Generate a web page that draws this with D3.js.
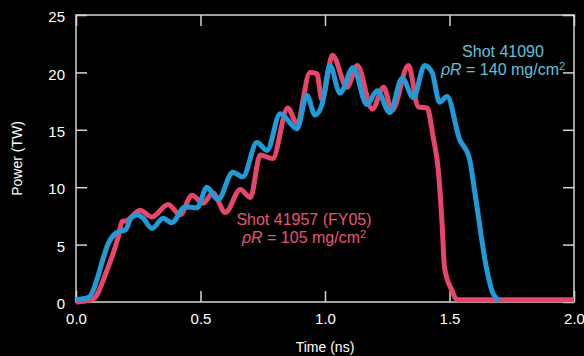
<!DOCTYPE html>
<html>
<head>
<meta charset="utf-8">
<script src="https://cdn.jsdelivr.net/npm/d3@7"></script>
<style>
  html, body { margin: 0; padding: 0; background: #000; }
  svg { display: block; }
</style>
</head>
<body>
<div id="chart"></div>
<script>
// pulse shapes (time in ns, power in TW)
const timeRed  = [0.00, 0.07, 0.125, 0.17, 0.185, 0.205, 0.257, 0.305, 0.37, 0.418, 0.466, 0.51, 0.55, 0.60, 0.66, 0.70, 0.74, 0.79, 0.85, 0.887, 0.94, 0.967, 0.988, 1.03, 1.088, 1.13, 1.19, 1.235, 1.27, 1.335, 1.375, 1.41, 1.435, 1.455, 1.47, 1.48, 1.51, 1.53, 2.00];
const powerRed = [0.0, 0.3, 2.8, 5.7, 7.0, 7.1, 8.0, 7.4, 8.5, 7.6, 9.3, 8.6, 9.5, 7.8, 9.8, 9.1, 12.8, 12.5, 16.9, 15.6, 20.0, 19.9, 17.6, 21.5, 18.7, 20.6, 16.8, 18.7, 16.7, 20.6, 17.0, 16.9, 14.3, 11.5, 6.9, 3.0, 1.0, 0.2, 0.2];

const timeBlue  = [0.00, 0.05, 0.137, 0.16, 0.20, 0.22, 0.245, 0.27, 0.305, 0.35, 0.385, 0.438, 0.486, 0.526, 0.57, 0.63, 0.67, 0.727, 0.767, 0.82, 0.888, 0.927, 0.96, 0.988, 1.02, 1.06, 1.113, 1.168, 1.21, 1.26, 1.31, 1.355, 1.40, 1.43, 1.46, 1.49, 1.54, 1.58, 1.60, 1.65, 1.67, 1.70];
const powerBlue = [0.2, 0.4, 5.4, 6.0, 6.3, 7.3, 7.6, 7.3, 6.4, 7.3, 6.9, 8.3, 8.2, 10.0, 8.9, 11.3, 10.9, 13.9, 13.2, 16.4, 15.1, 18.0, 16.3, 17.2, 20.6, 18.2, 20.4, 17.2, 18.4, 16.5, 19.5, 17.8, 20.6, 20.0, 17.4, 17.9, 14.2, 12.5, 9.8, 2.8, 1.0, 0.1];

const xTicks = [0, 0.5, 1.0, 1.5, 2.0];
const yTicks = [0, 5, 10, 15, 20, 25];

const labelRed  = ["Shot 41957 (FY05)", "105"];
const labelBlue = ["Shot 41090", "140"];

let margin = ({ top: 15, right: 10, bottom: 54, left: 76 }),
    width = 584,
    height = 356;

let redColor = "#e8456a",
    blueColor = "#1f9bd8",
    frameColor = "#d4d4d4";

let x = d3.scaleLinear()
    .domain([0, 2])
    .range([margin.left, width - margin.right]);

let y = d3.scaleLinear()
    .domain([0, 25])
    .range([height - margin.bottom, margin.top]);

let svg = d3.select("#chart")
    .append("svg")
    .attr("width", width)
    .attr("height", height)
    .style("font-family", "'Liberation Sans', Arial, sans-serif");

svg.append("rect")
    .attr("width", width)
    .attr("height", height)
    .attr("fill", "#000");

let tickLen = 11;

// axes, ticks pointing inward on all four sides
let xAxis = g => g
    .attr("transform", `translate(0,${y(0)})`)
    .call(d3.axisBottom(x).tickValues(xTicks).tickFormat(d3.format(".1f")).tickSizeInner(-tickLen).tickSizeOuter(0).tickPadding(11))
    .call(g => g.select(".domain").remove())
    .call(g => g.selectAll("line").attr("stroke", frameColor).attr("stroke-width", 1.5))
    .call(g => g.selectAll("text").attr("fill", "#fff").style("font-size", "15px"));

let yAxis = g => g
    .attr("transform", `translate(${x(0)},0)`)
    .call(d3.axisLeft(y).tickValues(yTicks).tickSizeInner(-tickLen).tickSizeOuter(0).tickPadding(11))
    .call(g => g.select(".domain").remove())
    .call(g => g.selectAll("line").attr("stroke", frameColor).attr("stroke-width", 1.5))
    .call(g => g.selectAll("text").attr("fill", "#fff").attr("dy", "0.45em").style("font-size", "15px"));

let xAxisTop = g => g
    .attr("transform", `translate(0,${y(25)})`)
    .call(d3.axisTop(x).tickValues(xTicks).tickSizeInner(-tickLen).tickSizeOuter(0).tickFormat(""))
    .call(g => g.select(".domain").remove())
    .call(g => g.selectAll("line").attr("stroke", frameColor).attr("stroke-width", 1.5));

let yAxisRight = g => g
    .attr("transform", `translate(${x(2)},0)`)
    .call(d3.axisRight(y).tickValues(yTicks).tickSizeInner(-tickLen).tickSizeOuter(0).tickFormat(""))
    .call(g => g.select(".domain").remove())
    .call(g => g.selectAll("line").attr("stroke", frameColor).attr("stroke-width", 1.5));

svg.append("g").call(xAxis);
svg.append("g").call(yAxis);
svg.append("g").call(xAxisTop);
svg.append("g").call(yAxisRight);

// frame
svg.append("rect")
    .attr("x", x(0))
    .attr("y", y(25))
    .attr("width", x(2) - x(0))
    .attr("height", y(0) - y(25))
    .attr("fill", "none")
    .attr("stroke", frameColor)
    .attr("stroke-width", 1.5);

let line = d3.line()
    .x(d => x(d[0]))
    .y(d => y(d[1]))
    .curve(d3.curveMonotoneX);

svg.append("path")
    .datum(d3.zip(timeRed, powerRed))
    .attr("fill", "none")
    .attr("stroke", redColor)
    .attr("stroke-width", 5)
    .attr("stroke-linejoin", "round")
    .attr("d", line);

svg.append("path")
    .datum(d3.zip(timeBlue, powerBlue))
    .attr("fill", "none")
    .attr("stroke", blueColor)
    .attr("stroke-width", 5)
    .attr("stroke-linejoin", "round")
    .attr("d", line);

// annotations
function annotate(lines, cx, baseline, color) {
    let g = svg.append("g")
        .attr("fill", color)
        .style("font-size", "16px")
        .attr("text-anchor", "middle");
    g.append("text")
        .attr("x", cx)
        .attr("y", baseline)
        .text(lines[0]);
    let t = g.append("text")
        .attr("x", cx)
        .attr("y", baseline + 17.5);
    t.append("tspan").style("font-style", "italic").text("\u03C1R");
    t.append("tspan").text(` = ${lines[1]} mg/cm`);
    t.append("tspan").attr("dy", "-0.45em").style("font-size", "11px").text("2");
}

annotate(labelBlue, 503, 57, "#62c2dc");
annotate(labelRed, 304, 225, "#e8557a");

// axis titles
svg.append("text")
    .attr("x", (x(0) + x(2)) / 2)
    .attr("y", height - 4)
    .attr("fill", "#fff")
    .style("font-size", "14px")
    .attr("text-anchor", "middle")
    .text("Time (ns)");

svg.append("text")
    .attr("transform", `translate(22,${(y(0) + y(25)) / 2}) rotate(-90)`)
    .attr("fill", "#fff")
    .style("font-size", "14px")
    .attr("text-anchor", "middle")
    .text("Power (TW)");
</script>
</body>
</html>
